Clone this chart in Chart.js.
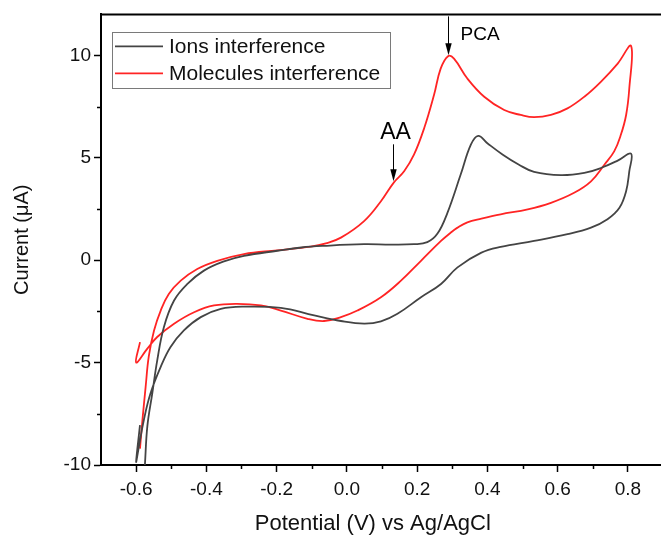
<!DOCTYPE html>
<html>
<head>
<meta charset="utf-8">
<script src="https://cdn.jsdelivr.net/npm/chart.js@4.4.0/dist/chart.umd.min.js"></script>
<style>
  html, body { margin: 0; padding: 0; background: #fff; overflow: hidden; }
  #wrap { width: 663px; height: 536px; }
</style>
</head>
<body>
<div id="wrap"><canvas id="cvChart" width="663" height="536"></canvas></div>
<script>
// Cyclic voltammograms: potential (V) and current (uA)
const ionsV = [-0.575, -0.568, -0.554, -0.540, -0.521, -0.492, -0.454, -0.407, -0.350, -0.293,
    -0.198, -0.130, -0.065, 0.049, 0.125, 0.191, 0.229, 0.258, 0.286, 0.324,
    0.353, 0.374, 0.400, 0.444, 0.490, 0.533, 0.609, 0.676, 0.723, 0.771,
    0.809, 0.804, 0.795, 0.776, 0.742, 0.695, 0.628, 0.533, 0.438, 0.383,
    0.315, 0.268, 0.211, 0.144, 0.097, 0.049, -0.017, -0.093, -0.188, -0.293,
    -0.359, -0.416, -0.464, -0.502, -0.530, -0.559, -0.578, -0.592, -0.600, -0.589];
const ionsI = [-10.0, -8.1, -6.5, -4.9, -3.27, -1.97, -1.16, -0.51, -0.06, 0.21,
    0.46, 0.62, 0.70, 0.78, 0.76, 0.78, 0.88, 1.30, 2.30, 4.18,
    5.64, 6.07, 5.71, 5.15, 4.66, 4.31, 4.15, 4.26, 4.50, 4.86,
    5.20, 4.34, 3.37, 2.56, 2.00, 1.59, 1.27, 0.94, 0.65, 0.37,
    -0.35, -1.16, -1.81, -2.62, -2.99, -3.10, -2.97, -2.70, -2.33, -2.27,
    -2.38, -2.78, -3.43, -4.24, -5.21, -6.5, -7.8, -9.1, -9.84, -8.05];

const molV = [-0.589, -0.582, -0.573, -0.564, -0.549, -0.530, -0.507, -0.473, -0.426, -0.369,
    -0.293, -0.198, -0.103, -0.060, -0.017, 0.049, 0.097, 0.134, 0.163, 0.191,
    0.220, 0.248, 0.267, 0.288, 0.305, 0.343, 0.391, 0.448, 0.495, 0.533,
    0.581, 0.628, 0.676, 0.723, 0.771, 0.809, 0.804, 0.795, 0.780, 0.761,
    0.733, 0.695, 0.647, 0.581, 0.515, 0.438, 0.383, 0.343, 0.315, 0.296,
    0.268, 0.211, 0.154, 0.097, 0.030, -0.017, -0.065, -0.112, -0.188, -0.245,
    -0.312, -0.378, -0.435, -0.492, -0.540, -0.568, -0.600, -0.589];
const molI = [-9.2, -7.8, -6.2, -4.7, -3.43, -2.46, -1.65, -1.0, -0.43, -0.03,
    0.30, 0.48, 0.66, 0.82, 1.10, 1.91, 2.88, 3.80, 4.34, 5.15,
    6.44, 8.06, 9.35, 9.96, 9.84, 8.87, 7.98, 7.33, 7.09, 6.98,
    7.09, 7.41, 7.98, 8.71, 9.60, 10.46, 8.38, 7.09, 6.12, 5.31,
    4.66, 3.85, 3.29, 2.80, 2.48, 2.24, 2.03, 1.85, 1.59, 1.35,
    0.94, -0.03, -1.0, -1.81, -2.46, -2.78, -2.97, -2.86, -2.46, -2.21,
    -2.13, -2.21, -2.54, -3.1, -3.75, -4.32, -5.0, -4.0];

const seriesNames = ['Ions interference', 'Molecules interference'];

// Axis ticks
const xTicks = [-0.6, -0.4, -0.2, 0.0, 0.2, 0.4, 0.6, 0.8];
const xMinorTicks = [-0.5, -0.3, -0.1, 0.1, 0.3, 0.5, 0.7, 0.9];
const yTicks = [-10, -5, 0, 5, 10];
const yMinorTicks = [-7.5, -2.5, 2.5, 7.5];

// Peak markers (arrow tips on the red curve)
const peakNames = ['PCA', 'AA'];
const peakV = [0.288, 0.130];
const peakI = [10.0, 3.85];

const FONT = '"Liberation Sans", Arial, sans-serif';
const BLACK = '#444444';
const RED = '#ff2424';

function toPoints(xs, ys) {
    return xs.map((x, i) => ({ x: x, y: ys[i] }));
}

// frame, minor ticks, arrows and the boxed legend
const decorations = {
    id: 'decorations',
    afterDraw(chart) {
        const ctx = chart.ctx;
        const area = chart.chartArea;
        const xs = chart.scales.x;
        const ys = chart.scales.y;
        ctx.save();

        // top / right frame
        ctx.strokeStyle = '#000';
        ctx.lineWidth = 2;
        ctx.beginPath();
        ctx.moveTo(area.left, area.top);
        ctx.lineTo(area.right, area.top);
        ctx.lineTo(area.right, area.bottom);
        ctx.stroke();

        // minor ticks
        ctx.lineWidth = 1.5;
        ctx.beginPath();
        xMinorTicks.forEach(v => {
            const px = Math.round(xs.getPixelForValue(v)) + 0.5;
            ctx.moveTo(px, area.bottom);
            ctx.lineTo(px, area.bottom + 4);
        });
        yMinorTicks.forEach(v => {
            const py = Math.round(ys.getPixelForValue(v)) + 0.5;
            ctx.moveTo(area.left, py);
            ctx.lineTo(area.left - 4, py);
        });
        ctx.stroke();

        // arrows + labels
        const arrowLen = [39, 37];
        const fontSize = [19, 23];
        ctx.fillStyle = '#000';
        ctx.strokeStyle = '#000';
        ctx.lineWidth = 1;
        peakNames.forEach((name, i) => {
            const tx = Math.round(xs.getPixelForValue(peakV[i])) + 0.5;
            const ty = ys.getPixelForValue(peakI[i]);
            ctx.beginPath();
            ctx.moveTo(tx, ty - arrowLen[i]);
            ctx.lineTo(tx, ty - 10);
            ctx.stroke();
            ctx.beginPath();
            ctx.moveTo(tx, ty);
            ctx.lineTo(tx - 3.2, ty - 12);
            ctx.lineTo(tx + 3.2, ty - 12);
            ctx.closePath();
            ctx.fill();

            ctx.font = fontSize[i] + 'px ' + FONT;
            ctx.textBaseline = 'middle';
            if (i === 0) {
                ctx.textAlign = 'left';
                ctx.fillText(name, tx + 12, ty - 21);
            } else {
                ctx.textAlign = 'center';
                ctx.fillText(name, tx + 2, ty - 49);
            }
        });

        // legend box
        const lx = area.left + 11;
        const ly = area.top + 18;
        ctx.font = '21px ' + FONT;
        const textW = Math.max(...seriesNames.map(s => ctx.measureText(s).width));
        const boxW = 57 + textW + 10;
        const boxH = 56;
        ctx.strokeStyle = '#7a7a7a';
        ctx.lineWidth = 1;
        ctx.strokeRect(Math.round(lx) + 0.5, Math.round(ly) + 0.5, Math.round(boxW), boxH);
        chart.data.datasets.forEach((ds, i) => {
            const rowY = ly + 14 + i * 27;
            ctx.strokeStyle = ds.borderColor;
            ctx.lineWidth = 1.8;
            ctx.beginPath();
            ctx.moveTo(lx + 3, rowY);
            ctx.lineTo(lx + 51, rowY);
            ctx.stroke();
            ctx.fillStyle = '#111';
            ctx.textAlign = 'left';
            ctx.textBaseline = 'middle';
            ctx.fillText(ds.label, lx + 57, rowY + 1);
        });

        ctx.restore();
    }
};

const ctx = document.getElementById('cvChart').getContext('2d');
const cvChart = new Chart(ctx, {
    type: 'scatter',
    data: {
        datasets: [{
            label: seriesNames[0],
            data: toPoints(ionsV, ionsI),
            borderColor: BLACK,
            borderWidth: 1.8,
            showLine: true,
            pointRadius: 0,
            tension: 0.4
        }, {
            label: seriesNames[1],
            data: toPoints(molV, molI),
            borderColor: RED,
            borderWidth: 1.8,
            showLine: true,
            pointRadius: 0,
            tension: 0.4
        }]
    },
    options: {
        responsive: false,
        animation: false,
        layout: { padding: { top: 13, right: 0, bottom: 0, left: 0 } },
        plugins: {
            legend: { display: false },
            tooltip: { enabled: false }
        },
        scales: {
            x: {
                type: 'linear',
                min: -0.7,
                max: 0.9,
                afterBuildTicks: scale => { scale.ticks = xTicks.map(v => ({ value: v })); },
                afterFit: scale => { scale.height = 71; },
                ticks: {
                    font: { family: FONT, size: 19 },
                    color: '#111',
                    padding: 6,
                    maxRotation: 0,
                    autoSkip: false,
                    callback: v => v.toFixed(1)
                },
                grid: {
                    drawOnChartArea: false,
                    drawTicks: true,
                    tickLength: 7,
                    tickColor: '#000',
                    tickWidth: 1.5
                },
                border: { color: '#000', width: 2 },
                title: {
                    display: true,
                    // trailing spaces nudge the centred title left, as in the original
                    text: 'Potential (V) vs Ag/AgCl\u00a0\u00a0\u00a0',
                    font: { family: FONT, size: 22, lineHeight: 1 },
                    color: '#111',
                    padding: { top: 0, bottom: 1 }
                }
            },
            y: {
                min: -10,
                max: 12,
                afterBuildTicks: scale => { scale.ticks = yTicks.map(v => ({ value: v })); },
                afterFit: scale => { scale.width = 101; },
                ticks: {
                    font: { family: FONT, size: 19 },
                    color: '#111',
                    padding: 3,
                    autoSkip: false,
                    callback: v => String(v)
                },
                grid: {
                    drawOnChartArea: false,
                    drawTicks: true,
                    tickLength: 7,
                    tickColor: '#000',
                    tickWidth: 1.5
                },
                border: { color: '#000', width: 2 },
                title: {
                    display: true,
                    text: 'Current (μA)',
                    font: { family: FONT, size: 20, lineHeight: 1 },
                    color: '#111',
                    padding: { top: 12, bottom: 0 }
                }
            }
        }
    },
    plugins: [decorations]
});
</script>
</body>
</html>
